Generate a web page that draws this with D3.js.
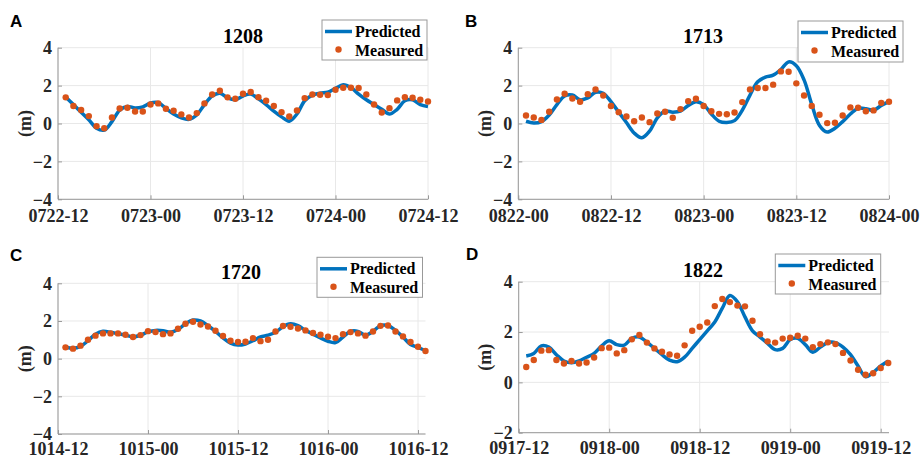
<!DOCTYPE html>
<html><head><meta charset="utf-8">
<script src="https://cdn.jsdelivr.net/npm/d3@7"></script>
<style>body{margin:0;background:#fff}svg{display:block}</style>
</head><body>
<svg id="c" width="921" height="459"></svg>
<script>
// ---- DATA ----
const hoursA = d3.range(1, 49);
const measuredA = [1.38,0.92,0.71,0.39,-0.14,-0.25,0.32,0.79,0.83,0.63,0.63,1.0,1.06,0.78,0.67,0.48,0.32,0.55,1.06,1.53,1.73,1.38,1.31,1.57,1.66,1.39,1.2,0.92,0.6,0.37,0.69,1.34,1.53,1.52,1.5,1.78,1.89,1.89,1.87,1.53,1.0,0.58,0.81,1.22,1.39,1.36,1.25,1.16];
const predictedA = [1.4,1.0,0.6,0.2,-0.25,-0.35,0.1,0.7,0.9,0.82,0.88,1.08,1.1,0.8,0.5,0.3,0.22,0.45,1.0,1.45,1.6,1.35,1.25,1.45,1.55,1.3,1.0,0.65,0.35,0.12,0.5,1.2,1.5,1.6,1.65,1.85,2.05,1.9,1.55,1.25,1.0,0.75,0.5,0.75,1.2,1.25,1.0,0.9];
const ticksA = ["0722-12","0723-00","0723-12","0724-00","0724-12"];

const hoursB = d3.range(1, 49);
const measuredB = [0.42,0.32,0.19,0.62,1.27,1.57,1.32,1.15,1.55,1.8,1.48,0.92,0.6,0.37,0.12,0.32,0.07,0.53,0.62,0.3,0.76,1.18,1.31,0.92,0.65,0.51,0.49,0.58,1.13,1.8,1.87,1.87,2.05,2.75,2.73,2.12,1.48,0.93,0.46,0.02,0.04,0.42,0.85,0.83,0.65,0.69,1.09,1.15];
const predictedB = [0.12,0.03,0.1,0.45,1.0,1.45,1.5,1.25,1.35,1.65,1.6,1.15,0.6,0.05,-0.5,-0.75,-0.4,0.3,0.65,0.6,0.65,0.95,1.15,1.0,0.5,0.12,0.05,0.15,0.7,1.5,2.2,2.45,2.55,2.85,3.25,3.05,2.3,1.0,-0.1,-0.45,-0.25,0.1,0.5,0.8,0.78,0.7,0.95,1.15];
const ticksB = ["0822-00","0822-12","0823-00","0823-12","0824-00"];

const hoursC = d3.range(1, 50);
const measuredC = [0.6,0.53,0.69,1.0,1.22,1.34,1.34,1.34,1.27,1.15,1.25,1.46,1.41,1.3,1.34,1.59,1.85,1.96,1.81,1.71,1.48,1.2,0.95,0.88,0.9,1.09,0.93,1.0,1.44,1.73,1.69,1.6,1.5,1.36,1.27,1.16,1.09,1.3,1.41,1.34,1.22,1.44,1.74,1.76,1.44,1.18,0.88,0.63,0.41];
const predictedC = [0.62,0.55,0.65,0.95,1.3,1.45,1.4,1.32,1.25,1.15,1.25,1.42,1.5,1.48,1.4,1.55,1.85,2.05,2.0,1.75,1.45,1.1,0.82,0.72,0.78,0.95,1.15,1.25,1.4,1.7,1.85,1.75,1.5,1.3,1.1,0.92,0.85,1.15,1.45,1.45,1.25,1.45,1.75,1.75,1.5,1.15,0.75,0.6,0.42];
const ticksC = ["1014-12","1015-00","1015-12","1016-00","1016-12"];

const hoursD = d3.range(1, 50);
const measuredD = [0.61,0.89,1.26,1.28,0.89,0.75,0.85,0.75,0.79,0.99,1.36,1.38,1.15,1.28,1.71,1.88,1.58,1.35,1.22,1.11,1.06,1.47,2.05,2.21,2.38,3.03,3.31,3.19,3.05,3.02,2.45,1.91,1.63,1.58,1.74,1.77,1.85,1.74,1.4,1.52,1.59,1.52,1.17,0.87,0.5,0.3,0.36,0.57,0.77];
const predictedD = [1.05,1.15,1.45,1.4,1.1,0.85,0.78,0.85,1.0,1.15,1.45,1.65,1.5,1.48,1.75,1.8,1.6,1.35,1.1,0.88,0.82,1.0,1.35,1.7,2.05,2.4,2.95,3.45,3.2,2.6,2.05,1.8,1.55,1.3,1.35,1.7,1.75,1.5,1.2,1.4,1.58,1.58,1.4,1.1,0.65,0.22,0.4,0.65,0.85];
const ticksD = ["0917-12","0918-00","0918-12","0919-00","0919-12"];

const tickHours = [0, 12, 24, 36, 48];
const titles = ["1208","1713","1720","1822"];
const panelLetters = ["A","B","C","D"];
const legendLabels = ["Predicted","Measured"];

// ---- DRAW ----
const svg = d3.select("#c");
const BLUE = "#0072BD", ORANGE = "#D95319";
const SERIF = "'Liberation Serif','Times New Roman',serif";

const panels = [
  {L:58, R:428, T:47.7, B:199.3, xd:[0,48], yd:[-4,4], yt:[-4,-2,0,2,4], hours:hoursA, m:measuredA, p:predictedA, ticks:ticksA,
   title:titles[0], tx:243, ty:43, letter:panelLetters[0], lx:10, ly:27, lg:{x:322,y:20,w:105,h:40}, labX:25, tickBase:222},
  {L:518.3, R:889, T:47.7, B:199.3, xd:[0,48], yd:[-4,4], yt:[-4,-2,0,2,4], hours:hoursB, m:measuredB, p:predictedB, ticks:ticksB,
   title:titles[1], tx:703, ty:43, letter:panelLetters[1], lx:465, ly:27, lg:{x:798,y:21,w:105,h:41}, labX:485, tickBase:222},
  {L:58, R:425.5, T:283.3, B:434, xd:[0,49], yd:[-4,4], yt:[-4,-2,0,2,4], hours:hoursC, m:measuredC, p:predictedC, ticks:ticksC,
   title:titles[2], tx:241, ty:279, letter:panelLetters[2], lx:10, ly:261, lg:{x:317,y:257.3,w:105.5,h:40}, labX:25, tickBase:455},
  {L:518.7, R:889, T:281.7, B:432.7, xd:[0,49.1], yd:[-2,4], yt:[-2,0,2,4], hours:hoursD, m:measuredD, p:predictedD, ticks:ticksD,
   title:titles[3], tx:703, ty:277, letter:panelLetters[3], lx:466, ly:260, lg:{x:775.3,y:254,w:105.4,h:40}, labX:485, tickBase:454}
];

panels.forEach(P => {
  const g = svg.append("g");
  const x = d3.scaleLinear().domain(P.xd).range([P.L, P.R]);
  const y = d3.scaleLinear().domain(P.yd).range([P.B, P.T]);

  // grid
  g.selectAll(".gx").data(tickHours).enter().append("line")
    .attr("x1", d => x(d)).attr("x2", d => x(d)).attr("y1", P.T).attr("y2", P.B)
    .attr("stroke", "#e8e8e8").attr("stroke-width", 1);
  g.selectAll(".gy").data(P.yt).enter().append("line")
    .attr("x1", P.L).attr("x2", P.R).attr("y1", d => y(d)).attr("y2", d => y(d))
    .attr("stroke", "#e8e8e8").attr("stroke-width", 1);

  // axes
  const xAxis = d3.axisBottom(x).tickValues(tickHours).tickSize(-4).tickPadding(10)
    .tickFormat((d, i) => P.ticks[i]);
  const xg = g.append("g").attr("transform", `translate(0,${P.B})`).call(xAxis);
  xg.select(".domain").attr("stroke", "#999").attr("d", `M${P.L},0H${P.R}`);
  xg.selectAll(".tick line").attr("stroke", "#999");
  xg.selectAll(".tick text").attr("font-family", SERIF).attr("font-weight", "bold")
    .attr("font-size", 18).attr("fill", "#262626").attr("dy", null).attr("y", P.tickBase - P.B);

  const yAxis = d3.axisLeft(y).tickValues(P.yt).tickSize(-4).tickPadding(6).tickFormat(d3.format("d"));
  const yg = g.append("g").attr("transform", `translate(${P.L},0)`).call(yAxis);
  yg.select(".domain").attr("stroke", "#999").attr("d", `M0,${P.T}V${P.B}`);
  yg.selectAll(".tick line").attr("stroke", "#999");
  yg.selectAll(".tick text").attr("font-family", SERIF).attr("font-weight", "bold")
    .attr("font-size", 18).attr("fill", "#262626");

  // y label
  g.append("text").attr("transform", `translate(${P.labX + 6},${(P.T + P.B) / 2}) rotate(-90)`)
    .attr("text-anchor", "middle").attr("font-family", SERIF).attr("font-weight", "bold")
    .attr("font-size", 18).attr("fill", "#262626").text("(m)");

  // predicted line
  const line = d3.line().x((d, i) => x(P.hours[i])).y(d => y(d)).curve(d3.curveCatmullRom.alpha(0.5));
  g.append("path").datum(P.p).attr("d", line).attr("fill", "none")
    .attr("stroke", BLUE).attr("stroke-width", 3.5).attr("stroke-linejoin", "round");

  // measured points
  g.selectAll(".pt").data(P.m).enter().append("circle")
    .attr("cx", (d, i) => x(P.hours[i])).attr("cy", d => y(d)).attr("r", 3.2).attr("fill", ORANGE);

  // title
  g.append("text").attr("x", P.tx).attr("y", P.ty).attr("text-anchor", "middle")
    .attr("font-family", SERIF).attr("font-weight", "bold").attr("font-size", 20).attr("fill", "#000").text(P.title);

  // panel letter
  g.append("text").attr("x", P.lx).attr("y", P.ly).attr("font-family", "'Liberation Sans',Arial,sans-serif")
    .attr("font-weight", "bold").attr("font-size", 17).attr("fill", "#000").text(P.letter);

  // legend
  const lg = P.lg;
  g.append("rect").attr("x", lg.x).attr("y", lg.y).attr("width", lg.w).attr("height", lg.h)
    .attr("fill", "#fff").attr("stroke", "#999").attr("stroke-width", 1);
  g.append("line").attr("x1", lg.x + 3).attr("x2", lg.x + 30).attr("y1", lg.y + 11.5).attr("y2", lg.y + 11.5)
    .attr("stroke", BLUE).attr("stroke-width", 3.5);
  g.append("circle").attr("cx", lg.x + 16.5).attr("cy", lg.y + 29.5).attr("r", 3.2).attr("fill", ORANGE);
  g.selectAll(".lt").data(legendLabels).enter().append("text")
    .attr("x", lg.x + 33).attr("y", (d, i) => lg.y + 17 + i * 18.5)
    .attr("font-family", SERIF).attr("font-weight", "bold").attr("font-size", 16).attr("fill", "#000").text(d => d);
});
</script>
</body></html>
